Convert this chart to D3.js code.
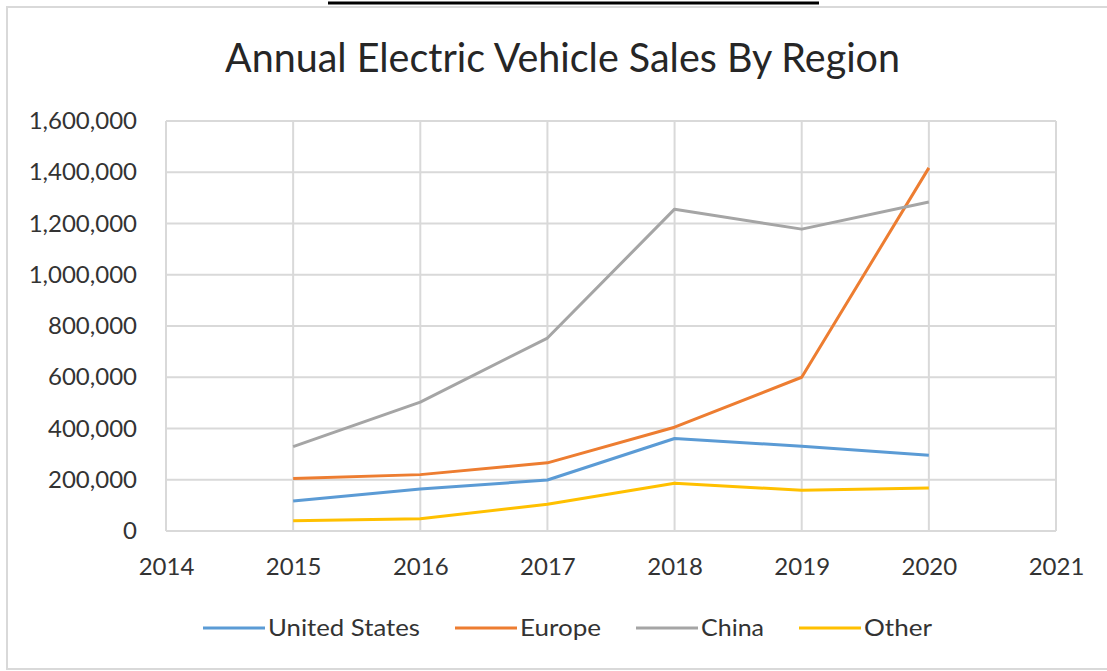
<!DOCTYPE html>
<html>
<head>
<meta charset="utf-8">
<script src="https://cdn.jsdelivr.net/npm/d3@7"></script>
<style>
  html, body { margin: 0; padding: 0; background: #fff; }
  svg { display: block; }
  text { font-family: Lato, "Open Sans", sans-serif; }
</style>
</head>
<body>
<svg id="chart" width="1107" height="671"></svg>
<script>
const title = "Annual Electric Vehicle Sales By Region";
const years = [2015, 2016, 2017, 2018, 2019, 2020];
const xTicks = [2014, 2015, 2016, 2017, 2018, 2019, 2020, 2021];
const yTicks = [0, 200000, 400000, 600000, 800000, 1000000, 1200000, 1400000, 1600000];
const seriesNames = ["United States", "Europe", "China", "Other"];
const seriesColors = ["#5B9BD5", "#ED7D31", "#A5A5A5", "#FFC000"];
const unitedStates = [117000, 164000, 199000, 361000, 331000, 296000];
const europe = [205000, 220000, 266000, 405000, 600000, 1417000];
const china = [329000, 503000, 753000, 1256000, 1178000, 1284000];
const other = [40000, 48000, 104000, 186000, 159000, 168000];
const seriesValues = [unitedStates, europe, china, other];

const svg = d3.select("#chart");

// outer chart border
svg.append("rect")
  .attr("x", 7).attr("y", 7).attr("width", 1110).attr("height", 662)
  .attr("fill", "#fff").attr("stroke", "#d9d9d9").attr("stroke-width", 2);

// cut-off underline at the very top
svg.append("line")
  .attr("x1", 328).attr("x2", 819).attr("y1", 3).attr("y2", 3)
  .attr("stroke", "#000").attr("stroke-width", 3);

const plot = { left: 166, right: 1056, top: 121, bottom: 531 };

const x = d3.scaleLinear().domain([2014, 2021]).range([plot.left, plot.right]);
const y = d3.scaleLinear().domain([0, 1600000]).range([plot.bottom, plot.top]);

// title
svg.append("text")
  .attr("x", 225).attr("y", 72)
  .attr("font-size", 40)
  .attr("fill", "#262626")
  .attr("textLength", 675)
  .attr("lengthAdjust", "spacingAndGlyphs")
  .text(title);

// gridlines
const grid = svg.append("g");
grid.selectAll("line.h").data(yTicks).join("line")
  .attr("class", "h")
  .attr("x1", plot.left).attr("x2", plot.right)
  .attr("y1", d => y(d)).attr("y2", d => y(d))
  .attr("stroke", "#d9d9d9").attr("stroke-width", 2);
grid.selectAll("line.v").data(xTicks).join("line")
  .attr("class", "v")
  .attr("y1", plot.top).attr("y2", plot.bottom)
  .attr("x1", d => x(d)).attr("x2", d => x(d))
  .attr("stroke", "#d9d9d9").attr("stroke-width", 2);

// axes (labels only)
const fmt = d3.format(",");
const yAxis = svg.append("g")
  .attr("transform", `translate(${plot.left},0)`)
  .call(d3.axisLeft(y).tickValues(yTicks).tickFormat(fmt).tickSize(0).tickPadding(29));
yAxis.select(".domain").remove();
yAxis.selectAll("text")
  .attr("font-family", "Lato, sans-serif")
  .attr("font-size", 24).attr("fill", "#333");

const xAxis = svg.append("g")
  .attr("transform", `translate(0,${plot.bottom})`)
  .call(d3.axisBottom(x).tickValues(xTicks).tickFormat(d3.format("d")).tickSize(0).tickPadding(27));
xAxis.select(".domain").remove();
xAxis.selectAll("text")
  .attr("font-family", "Lato, sans-serif")
  .attr("font-size", 24).attr("fill", "#333");

// series lines
const line = d3.line().x((d, i) => x(years[i])).y(d => y(d));
svg.append("g").selectAll("path").data(seriesValues).join("path")
  .attr("d", d => line(d))
  .attr("fill", "none")
  .attr("stroke", (d, i) => seriesColors[i])
  .attr("stroke-width", 3)
  .attr("stroke-linejoin", "round");

// legend
const legendX = [203, 455, 636, 799];
const legendTextW = [152, 81, 63, 68];
const lg = svg.append("g").selectAll("g").data(seriesNames).join("g")
  .attr("transform", (d, i) => `translate(${legendX[i]},628)`);
lg.append("line")
  .attr("x1", 0).attr("x2", 62).attr("y1", 0).attr("y2", 0)
  .attr("stroke", (d, i) => seriesColors[i]).attr("stroke-width", 3);
lg.append("text")
  .attr("x", 65).attr("y", 8)
  .attr("font-size", 24).attr("fill", "#333")
  .attr("textLength", (d, i) => legendTextW[i])
  .attr("lengthAdjust", "spacingAndGlyphs")
  .text(d => d);
</script>
</body>
</html>
